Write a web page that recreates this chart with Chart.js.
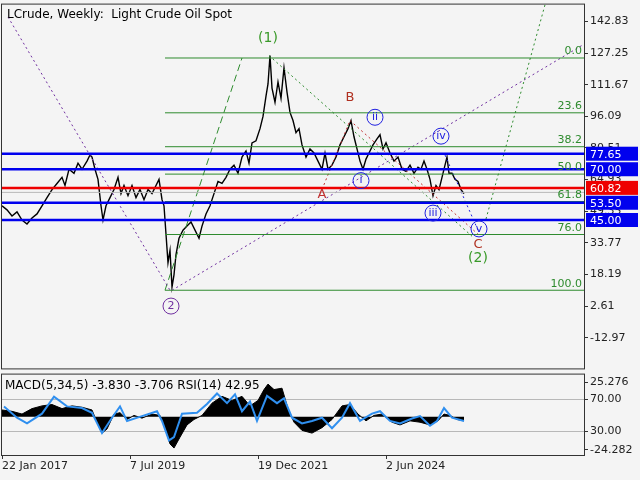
<!DOCTYPE html>
<html>
<head>
<meta charset="utf-8">
<script src="https://cdn.jsdelivr.net/npm/chart.js@4"></script>
<style>
  body { margin: 0; background: #f4f4f4; }
  #wrap { position: relative; width: 640px; height: 480px; background: #f4f4f4; overflow: hidden; }
  #main { position: absolute; left: 0; top: -4px; }
  #macd { position: absolute; left: 0; top: 366px; }
</style>
</head>
<body>
<div id="wrap">
  <div id="main" style="width:640px;height:381px"><canvas id="mainChart"></canvas></div>
  <div id="macd" style="width:640px;height:114px"><canvas id="macdChart"></canvas></div>
</div>
<script>
// weeks since 22 Jan 2017
const weeks = [0,5,10,15,20,25,30,35,40,45,50,55,60,63,67,72,76,80,85,88,90,93,96,99,101,104,108,112,116,119,122,126,130,134,138,142,146,150,154,157,160,162,164,166,168,170,172,174,177,181,185,189,193,197,200,204,208,212,216,220,224,228,232,236,240,244,247,250,254,258,261,264,266,268,270,273,276,279,282,285,288,291,294,297,300,304,308,312,316,320,323,326,330,334,338,342,346,349,352,355,358,361,364,367,371,375,378,381,384,388,392,396,400,404,408,412,416,419,422,425,428,431,434,437,440,443,445,447,450,453,456,459,462];
const close = [52,50,47,49,45,43,46,48,52,56,60,63,66,62,70,68,73,70,74,77,76,70,65,52,45,52,56,60,66,58,62,57,62,56,60,55,60,58,62,65,55,52,38,24,30,12,18,28,36,40,42,44,40,36,42,48,52,58,64,63,66,70,72,68,76,79,73,83,84,90,96,106,112,126,110,103,113,105,120,108,98,94,88,90,82,76,80,78,74,70,78,70,72,76,82,86,90,94,86,80,74,70,75,78,82,85,87,80,83,78,74,76,70,69,72,68,71,70,74,70,65,57,62,60,66,72,76,68,68,65,64,60,58];

const macdWeeks = [0,10,20,30,40,50,60,70,80,90,95,100,105,112,118,125,132,140,150,158,163,168,172,178,185,192,200,210,220,230,240,248,256,262,266,272,280,286,292,300,310,320,330,340,348,356,364,372,380,390,398,408,418,428,436,442,448,455,462];
const macdHist = [5,4,2,6,8,9,6,8,7,5,-4,-12,-9,2,3,-2,1,-1,2,1,-8,-20,-23,-15,-6,-2,1,10,15,12,15,8,12,20,24,20,21,6,-4,-10,-12,-8,-2,8,9,2,-3,1,2,-4,-6,-3,-4,-6,-3,2,1,-2,-3];
const rsiWeeks = [2,15,25,40,52,65,80,90,100,110,118,125,140,155,160,167,172,180,195,205,215,225,233,240,248,255,265,275,282,290,300,310,320,330,340,348,358,370,378,388,398,410,418,428,435,442,450,462];
const rsi = [61,47,40,52,73,61,59,53,28,47,61,43,49,55,43,19,23,52,53,64,77,65,76,55,67,43,74,65,71,47,40,43,47,34,47,65,43,52,55,43,40,46,49,37,43,59,47,43];

const levelsBlue = [77.65, 70.00, 53.50, 45.00];
const levelRed = 60.82;
const lastPrice = 58.6;
const fibNames = ["0.0","23.6","38.2","50.0","61.8","76.0","100.0"];
const fibRatios = [0, 0.236, 0.382, 0.5, 0.618, 0.76, 1];
const fibHigh = 124.8, fibLow = 10.4;
const priceTicks = [142.83,127.25,111.67,96.09,80.51,64.93,49.35,33.77,18.19,2.61,-12.97];
const dateLabels = ["22 Jan 2017","7 Jul 2019","19 Dec 2021","2 Jun 2024"];
const dateTicks = [0,128,256,384];

const FONT = "DejaVu Sans";
const seg = (x1,y1,x2,y2) => [{x:x1,y:y1},{x:x2,y:y2}];
const lineDs = (data, color, width, dash) => ({
  type:'line', data, borderColor: color, borderWidth: width, borderDash: dash || [],
  pointRadius: 0, fill: false, tension: 0
});

const datasets = [];
levelsBlue.forEach(v => datasets.push(lineDs(seg(0,v,582,v), '#0000ee', 2.5)));
datasets.push(lineDs(seg(0,levelRed,582,levelRed), '#ee0000', 2.5));
datasets.push(lineDs(seg(0,lastPrice,582,lastPrice), '#b8b8b8', 1));
const fibPrices = fibRatios.map(r => fibHigh - r*(fibHigh-fibLow));
fibPrices.forEach(p => datasets.push(lineDs(seg(163,p,582,p), '#2e8b2e', 1)));
datasets.push(lineDs(seg(6,145,168,10.4), '#7030a0', 1, [2,3]));
datasets.push(lineDs(seg(170,10.4,582,131.6), '#7030a0', 1, [2,3]));
datasets.push(lineDs(seg(163,10.4,240,124.8), '#2e8b2e', 1, [7,4]));
datasets.push(lineDs(seg(484,45.5,543,151), '#2e8b2e', 1, [2,3]));
datasets.push(lineDs(seg(267,126,470,37), '#2e8b2e', 1, [2,3]));
datasets.push(lineDs(seg(320,60,348,94), '#c03030', 1, [2,3]));
datasets.push(lineDs(seg(348,94,476,38), '#c03030', 1, [2,3]));
datasets.push(lineDs(seg(443,77,476,40), '#2020e0', 1, [2,3]));
datasets.push(lineDs(weeks.map((w,i)=>({x:w,y:close[i]})), '#000', 1.4));

const waveLabels = [
  {t:'(1)', x:266, y:134.6, c:'#3a9a2a', size:14},
  {t:'2', x:169, y:2.6, c:'#7030a0', circle:true},
  {t:'B', x:348, y:105.3, c:'#b03020', size:13},
  {t:'A', x:320, y:57.6, c:'#c03030', size:13},
  {t:'i', x:359, y:64.4, c:'#2020e0', circle:true},
  {t:'ii', x:373, y:95.6, c:'#2020e0', circle:true},
  {t:'iii', x:431, y:48.4, c:'#2020e0', circle:true},
  {t:'iv', x:439, y:86.3, c:'#2020e0', circle:true},
  {t:'v', x:477, y:40.6, c:'#2020e0', circle:true},
  {t:'C', x:476, y:32.8, c:'#b03020', size:13},
  {t:'(2)', x:476, y:26.0, c:'#3a9a2a', size:14}
];

const framePlugin = {
  id:'frame',
  afterDraw(chart) {
    const {ctx, chartArea:a} = chart;
    ctx.save();
    ctx.strokeStyle = '#333'; ctx.lineWidth = 1;
    ctx.strokeRect(a.left-0.5, a.top-0.5, a.right-a.left+1, a.bottom-a.top+1);
    ctx.restore();
  }
};

const labelPlugin = {
  id:'labels',
  afterDraw(chart) {
    const {ctx, chartArea:a} = chart;
    const xs = chart.scales.x, ys = chart.scales.y;
    ctx.save();
    ctx.font = '12px ' + FONT; ctx.fillStyle = '#000';
    ctx.textAlign = 'left'; ctx.textBaseline = 'middle';
    ctx.fillText('LCrude, Weekly:  Light Crude Oil Spot', 7, a.top + 10);
    // fib labels
    ctx.font = '11px ' + FONT; ctx.fillStyle = '#2e8b2e'; ctx.textAlign = 'right'; ctx.textBaseline = 'bottom';
    fibPrices.forEach((p,i) => ctx.fillText(fibNames[i], a.right-2, ys.getPixelForValue(p)-1));
    // wave labels
    ctx.textAlign = 'center'; ctx.textBaseline = 'middle';
    waveLabels.forEach(l => {
      const px = xs.getPixelForValue(l.x), py = ys.getPixelForValue(l.y);
      ctx.fillStyle = l.c; ctx.strokeStyle = l.c;
      if (l.circle) {
        ctx.beginPath(); ctx.arc(px, py, 8, 0, Math.PI*2); ctx.lineWidth = 1; ctx.stroke();
        ctx.font = '11px ' + FONT;
      } else ctx.font = (l.size||12) + 'px ' + FONT;
      ctx.fillText(l.t, px, py);
    });
    // price boxes on the axis
    const boxes = levelsBlue.map(v => ({v, c:'#0000ee'})).concat([{v:levelRed, c:'#ee0000'}]);
    ctx.font = '11px ' + FONT; ctx.textAlign = 'left';
    boxes.forEach(b => {
      const py = ys.getPixelForValue(b.v);
      ctx.fillStyle = b.c; ctx.fillRect(a.right+2, py-7, 52, 14);
      ctx.fillStyle = '#fff'; ctx.fillText(b.v.toFixed(2), a.right+6, py+1);
    });
    ctx.restore();
  }
};

new Chart(document.getElementById('mainChart'), {
  type:'line',
  data:{ datasets },
  plugins:[framePlugin, labelPlugin],
  options:{
    responsive:true, maintainAspectRatio:false, animation:false,
    layout:{ padding:{ left:2, top:3, bottom:2, right:0 } },
    plugins:{ legend:{display:false}, tooltip:{enabled:false} },
    scales:{
      x:{ type:'linear', min:0, max:582, display:false },
      y:{
        position:'right', min:-28.1, max:151.1,
        afterFit(s){ s.width = 56; },
        afterBuildTicks(s){ s.ticks = priceTicks.map(v => ({value:v})); },
        grid:{ color:'transparent', tickColor:'#333', tickLength:4, drawOnChartArea:false },
        border:{ display:false },
        ticks:{ color:'#222', font:{family:FONT, size:11}, padding:2, callback:v => v.toFixed(2) }
      }
    }
  }
});

const macdMin = -28.1, macdMax = 31.0, rsiMin = 0.9, rsiMax = 100.3;
const macdToRsi = m => rsiMin + (m-macdMin)/(macdMax-macdMin)*(rsiMax-rsiMin);
const rsiTickVals = [macdToRsi(25.276), 70, 30, macdToRsi(-24.282)];
const rsiTickText = ['25.276','70.00','30.00','-24.282'];

const textPlugin = {
  id:'macdText',
  afterDraw(chart){
    const ctx = chart.ctx, a = chart.chartArea;
    ctx.save();
    ctx.font = '12px ' + FONT; ctx.fillStyle = '#000'; ctx.textBaseline = 'middle';
    ctx.fillText('MACD(5,34,5) -3.830 -3.706 RSI(14) 42.95', 5, a.top + 11);
    ctx.restore();
  }
};

new Chart(document.getElementById('macdChart'), {
  type:'line',
  data:{ datasets:[
    { data: rsiWeeks.map((w,i)=>({x:w,y:rsi[i]})), yAxisID:'rsi', borderColor:'#2f8fef', borderWidth:2, pointRadius:0, tension:0 },
    { data: macdWeeks.map((w,i)=>({x:w,y:macdHist[i]})), yAxisID:'m', borderColor:'#000', backgroundColor:'#000', borderWidth:1, pointRadius:0, fill:'origin', tension:0 }
  ]},
  plugins:[framePlugin, textPlugin],
  options:{
    responsive:true, maintainAspectRatio:false, animation:false,
    layout:{ padding:{ left:2, top:1, right:0, bottom:0 } },
    plugins:{ legend:{display:false}, tooltip:{enabled:false} },
    scales:{
      x:{
        type:'linear', min:0, max:582,
        afterFit(s){ s.height = 25; },
        afterBuildTicks(s){ s.ticks = dateTicks.map(v => ({value:v})); },
        grid:{ color:'transparent', tickColor:'#333', tickLength:4, drawOnChartArea:false },
        border:{ display:false },
        ticks:{ align:'start', maxRotation:0, color:'#222', font:{family:FONT, size:11}, padding:1,
                callback:(v) => dateLabels[dateTicks.indexOf(v)] }
      },
      m:{ min:macdMin, max:macdMax, display:false },
      rsi:{
        position:'right', min:rsiMin, max:rsiMax,
        afterFit(s){ s.width = 56; },
        afterBuildTicks(s){ s.ticks = rsiTickVals.map(v => ({value:v})); },
        grid:{ color:c => (c.tick && (c.tick.value===70 || c.tick.value===30)) ? '#b8b8b8' : 'transparent',
               borderDash:[3,3], tickColor:'#333', tickLength:4 },
        border:{ display:false },
        ticks:{ color:'#222', font:{family:FONT, size:11}, padding:2,
                callback:(v,i) => rsiTickText[i] }
      }
    }
  }
});
</script>
</body>
</html>
